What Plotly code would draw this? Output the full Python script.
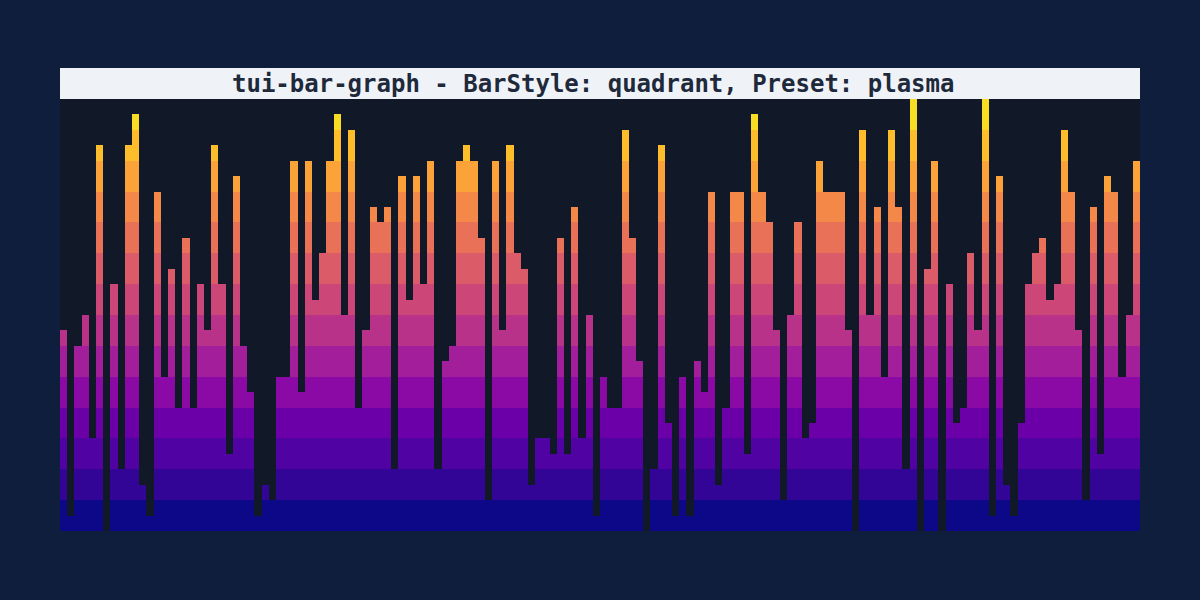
import plotly.graph_objects as go

# Bar heights in half-cell units (0..28), 150 bars
heights = [
    13, 1, 12, 14, 6, 25, 0, 16, 4, 25, 27, 3, 1, 22, 10, 17, 8, 19, 8, 16,
    13, 25, 16, 5, 23, 12, 9, 1, 3, 2, 10, 10, 24, 9, 24, 15, 18, 24, 27, 14,
    26, 8, 13, 21, 20, 21, 4, 23, 15, 23, 16, 24, 4, 11, 12, 24, 25, 24, 19, 2,
    24, 13, 25, 18, 17, 3, 6, 6, 5, 19, 5, 21, 6, 14, 1, 10, 8, 8, 26, 19,
    11, 0, 4, 25, 7, 1, 10, 1, 11, 9, 22, 3, 8, 22, 22, 5, 27, 22, 20, 13,
    2, 14, 20, 6, 7, 24, 22, 22, 22, 13, 0, 26, 14, 21, 10, 26, 21, 4, 28, 0,
    17, 24, 0, 16, 7, 8, 18, 13, 28, 1, 23, 3, 1, 7, 16, 18, 19, 15, 16, 26,
    22, 13, 2, 21, 5, 23, 22, 10, 14, 24,
]
positions = list(range(len(heights)))

# Plasma palette, one colour per terminal row (bottom to top)
row_colors = [
    "#0d0887", "#330597", "#5002a2", "#6c00a8", "#8b0aa5", "#a31e9a", "#b83289",
    "#cc4778", "#db5c68", "#e97158", "#f48849", "#fba238", "#febd2a", "#f9dc24",
]
n_rows = len(row_colors)

title_text = "tui-bar-graph - BarStyle: quadrant, Preset: plasma"

fig = go.Figure()
for r, col in enumerate(row_colors):
    seg = [min(max(h - 2 * r, 0), 2) for h in heights]
    fig.add_trace(go.Bar(
        x=positions, y=seg, marker=dict(color=col, line=dict(width=0)),
        hoverinfo="skip", showlegend=False,
    ))

W, H = 1200, 600
ml, mr, mt, mb = 60, 60, 99, 69
plot_h = H - mt - mb
title_h = 31

fig.update_layout(
    width=W, height=H,
    margin=dict(l=ml, r=mr, t=mt, b=mb),
    paper_bgcolor="#101e3e",
    plot_bgcolor="#111827",
    barmode="stack", bargap=0,
    xaxis=dict(visible=False, range=[-0.5, len(heights) - 0.5], fixedrange=True),
    yaxis=dict(visible=False, range=[0, 2 * n_rows], fixedrange=True),
    shapes=[dict(
        type="rect", xref="paper", yref="paper",
        x0=0, x1=1, y0=1, y1=1 + title_h / plot_h,
        fillcolor="#eff3f8", line=dict(width=0), layer="below",
    )],
    annotations=[dict(
        text=f"<b>{title_text}</b>", xref="paper", yref="paper",
        x=(12 * 14.4 - 3) / 1080, y=1 + (title_h / 2) / plot_h,
        xanchor="left", yanchor="middle", showarrow=False,
        font=dict(family="DejaVu Sans Mono", size=24, color="#1e293b"),
    )],
)

fig.write_html(
    "out.html",
    config={"displayModeBar": False, "staticPlot": True},
    post_script="document.body.style.margin='0';document.body.style.background='#101e3e';",
)
